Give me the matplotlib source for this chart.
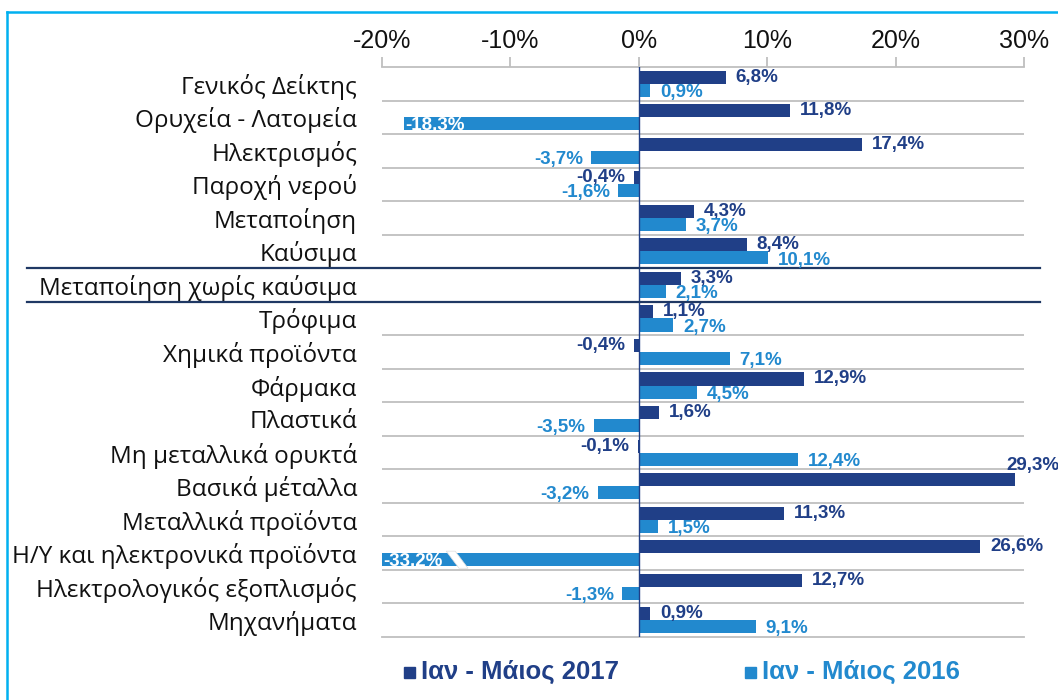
import numpy as np
import matplotlib
matplotlib.use("Agg")
import matplotlib.pyplot as plt
from matplotlib.lines import Line2D
from matplotlib.patches import Rectangle, Polygon
from matplotlib.transforms import blended_transform_factory

plt.rcParams["font.family"] = ["Liberation Sans", "DejaVu Sans"]

# ── data ─────────────────────────────────────────────────────────────────────
categories = [
    "Γενικός Δείκτης", "Ορυχεία - Λατομεία", "Ηλεκτρισμός", "Παροχή νερού",
    "Μεταποίηση", "Καύσιμα", "Μεταποίηση χωρίς καύσιμα", "Τρόφιμα",
    "Χημικά προϊόντα", "Φάρμακα", "Πλαστικά", "Μη μεταλλικά ορυκτά",
    "Βασικά μέταλλα", "Μεταλλικά προϊόντα", "Η/Υ και ηλεκτρονικά προϊόντα",
    "Ηλεκτρολογικός εξοπλισμός", "Μηχανήματα",
]
val_2017 = [6.8, 11.8, 17.4, -0.4, 4.3, 8.4, 3.3, 1.1, -0.4, 12.9, 1.6,
            -0.1, 29.3, 11.3, 26.6, 12.7, 0.9]
val_2016 = [0.9, -18.3, -3.7, -1.6, 3.7, 10.1, 2.1, 2.7, 7.1, 4.5, -3.5,
            12.4, -3.2, 1.5, -33.2, -1.3, 9.1]
series_labels = ["Ιαν - Μάιος 2017", "Ιαν - Μάιος 2016"]
x_ticks = [-20, -10, 0, 10, 20, 30]
x_min, x_max = -20, 30

DARK = "#203F87"
LIGHT = "#2289CE"
FRAME = "#00B0F0"
GRID = "#BFBFBF"

W, H = 1058, 700
fig = plt.figure(figsize=(W / 100, H / 100), dpi=100)
ax = fig.add_axes([382 / W, 63 / H, (1024 - 382) / W, (637 - 67) / H])

n = len(categories)
y = np.arange(n)
off, bh = 0.195, 0.39

ax.barh(y - off, val_2017, height=bh, color=DARK, zorder=2)
ax.barh(y + off, val_2016, height=bh, color=LIGHT, zorder=2)

ax.set_xlim(x_min, x_max)
ax.set_ylim(n - 0.5, -0.5)

# horizontal separators between categories
for b in np.arange(0.5, n - 0.5):
    ax.axhline(b, color=GRID, lw=1.3, zorder=1)
ax.axvline(0, color=DARK, lw=1.0, zorder=3)

for s in ["left", "right"]:
    ax.spines[s].set_visible(False)
for s in ["top", "bottom"]:
    ax.spines[s].set_color(GRID)
    ax.spines[s].set_linewidth(1.3)

ax.xaxis.tick_top()
ax.set_xticks(x_ticks)
ax.set_xticklabels([f"{t}%" for t in x_ticks])
ax.tick_params(axis="x", length=7, color=GRID, width=1.3, pad=3,
               labelsize=18, labelcolor="#111111")
ax.set_yticks(y)
ax.set_yticklabels(categories, fontfamily=["Open Sans", "DejaVu Sans"])
ax.tick_params(axis="y", length=0, pad=18, labelsize=17.5, labelcolor="#111111")

# dark separators around "Μεταποίηση χωρίς καύσιμα"
tr = blended_transform_factory(fig.transFigure, ax.transData)
for b in [5.5, 6.5]:
    ax.add_line(Line2D([27 / W, 1040 / W], [b, b], transform=tr, color="#1F3864",
                       lw=1.6, clip_on=False, zorder=4))

# ── value labels ─────────────────────────────────────────────────────────────
def fmt(v):
    return f"{v:.1f}%".replace(".", ",")

def label(v, yy, color, dy):
    if v >= 0:
        ax.annotate(fmt(v), (v, yy), xytext=(7, dy), textcoords="offset points",
                    ha="left", va="center", color=color, fontsize=13.5,
                    fontweight="bold", zorder=5)
    else:
        ax.annotate(fmt(v), (v, yy), xytext=(-6, dy), textcoords="offset points",
                    ha="right", va="center", color=color, fontsize=13.5,
                    fontweight="bold", zorder=5)

for i, v in enumerate(val_2017):
    if v > x_max - 2:
        # no room on the right: label sits above the bar end
        ax.annotate(fmt(v), (v, i - off), xytext=(-6.5, 10),
                    textcoords="offset points", ha="left", va="center",
                    color=DARK, fontsize=13.5, fontweight="bold",
                    annotation_clip=False, zorder=5)
    else:
        label(v, i - off, DARK, 0)

for i, v in enumerate(val_2016):
    if v < x_min + 3:
        # label sits inside the bar, in white
        ax.annotate(fmt(v), (max(v, x_min), i + off), xytext=(1, -1),
                    textcoords="offset points", ha="left", va="center",
                    color="white", fontsize=13.5, fontweight="bold", zorder=6)
        if v < x_min:
            # break mark on the clipped bar
            yb0, yb1 = i + off - bh / 2 - 0.06, i + off + bh / 2 + 0.06
            ax.add_patch(Polygon([(-15.0, yb0), (-14.3, yb0), (-13.3, yb1),
                                  (-14.0, yb1)], closed=True, facecolor="white",
                                 edgecolor="#DDDDDD", lw=0.5, zorder=5))
    else:
        label(v, i + off, LIGHT, -1.5)

# ── legend ───────────────────────────────────────────────────────────────────
leg_y = 1 - 672 / H
for (sx, tx), lab, col in zip([(404, 421), (745, 762)], series_labels, [DARK, LIGHT]):
    fig.patches.append(Rectangle((sx / W, leg_y - 5.5 / H), 11 / W, 11 / H,
                                 transform=fig.transFigure, color=col))
    fig.text(tx / W, leg_y, lab, ha="left", va="center", color=col,
             fontsize=18.5, fontweight="bold")

# ── frame ────────────────────────────────────────────────────────────────────
fig.add_artist(Line2D([7 / W, 1], [1 - 12 / H, 1 - 12 / H], color=FRAME, lw=1.8))
fig.add_artist(Line2D([7 / W, 7 / W], [0, 1 - 12 / H], color=FRAME, lw=1.8))

fig.savefig("out.png", dpi=100)
